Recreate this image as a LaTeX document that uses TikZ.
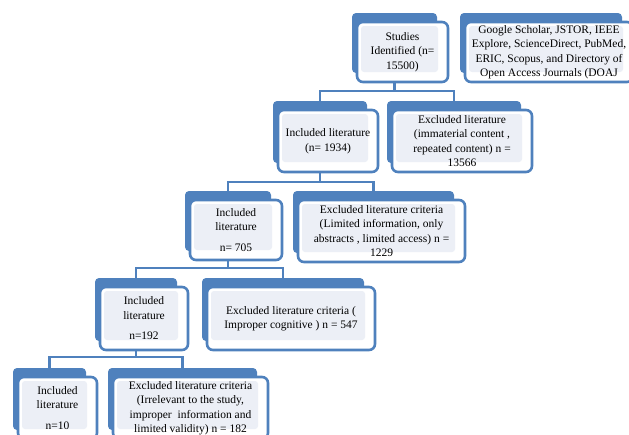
\documentclass[tikz,border=0pt]{standalone}
\usepackage{fontspec}
\setmainfont{Liberation Serif}
\usepackage{xcolor}
\usepackage{tikz}
\usetikzlibrary{positioning,calc}
\definecolor{boxblue}{HTML}{4F81BD}
\definecolor{paleblue}{HTML}{ECEFF6}

\begin{document}
\begin{tikzpicture}[x=1pt,y=-1pt,
  bk/.style={fill=boxblue,rounded corners=4pt,minimum height=60pt},
  fr/.style={draw=boxblue,fill=white,line width=2.6pt,rounded corners=6pt,
             align=center,inner sep=1pt,font=\fontsize{11.5}{14.5}\selectfont,
             path picture={\fill[paleblue,rounded corners=3pt]
               ([shift={(4pt,-4pt)}]path picture bounding box.north west) rectangle
               ([shift={(-10pt,10pt)}]path picture bounding box.south east);}},
  ln/.style={draw=boxblue,line width=2.6pt}
]
\useasboundingbox (0,0) rectangle (629,434);

\node[bk,minimum width=85pt]  (studiesb) at (394.5,43) {};
\node[bk,minimum width=162pt] (sourceb)  at (541,43) {};
\node[bk,minimum width=94pt,minimum height=62pt]  (inc1b) at (320,132) {};
\node[bk,minimum width=134pt,minimum height=62pt] (exc1b) at (454,132) {};
\node[bk,minimum width=86pt]  (inc2b) at (228,221) {};
\node[bk,minimum width=161pt,minimum height=62pt] (exc2b) at (373.5,222) {};
\node[bk,minimum width=82pt,minimum height=63pt]  (inc3b) at (136,309.5) {};
\node[bk,minimum width=162pt,minimum height=63pt] (exc3b) at (283,309.5) {};
\node[bk,minimum width=73pt,minimum height=62pt]  (inc4b) at (49.5,399) {};
\node[bk,minimum width=149pt,minimum height=62pt] (exc4b) at (182.5,399) {};

\coordinate (j1) at (0,91);
\coordinate (j2) at (0,182);
\coordinate (j3) at (0,268);
\coordinate (j4) at (0,357);

\node[fr,minimum width=91pt,minimum height=60pt] (studies) at (402.5,52)
  {Studies\\Identified (n=\\15500)};
\node[fr,minimum width=168pt,minimum height=60pt] (source) at (549,52)
  {Google Scholar, JSTOR, IEEE\\Explore, ScienceDirect, PubMed,\\ERIC, Scopus, and Directory of\\Open Access Journals (DOAJ};
\node[fr,minimum width=100pt,minimum height=62pt] (inc1) at (328,141)
  {Included literature\\(n= 1934)};
\node[fr,minimum width=140pt,minimum height=62pt] (exc1) at (462,141)
  {Excluded literature\\(immaterial content ,\\repeated content) n =\\13566};
\node[fr,minimum width=92pt,minimum height=60pt] (inc2) at (236,230)
  {Included\\literature\\[6pt]n= 705};
\node[fr,minimum width=167pt,minimum height=62pt] (exc2) at (381.5,231)
  {Excluded literature criteria\\(Limited information, only\\abstracts , limited access) n =\\1229};
\node[fr,minimum width=88pt,minimum height=63pt] (inc3) at (144,318.5)
  {Included\\literature\\[6pt]n=192};
\node[fr,minimum width=168pt,minimum height=63pt] (exc3) at (291,318.5)
  {Excluded literature criteria (\\Improper cognitive ) n = 547};
\node[fr,minimum width=79pt,minimum height=62pt] (inc4) at (57.5,408)
  {Included\\literature\\[6pt]n=10};
\node[fr,minimum width=155pt,minimum height=62pt] (exc4) at (190.5,408)
  {Excluded literature criteria\\(Irrelevant to the study,\\improper~ information and\\limited validity) n = 182};

\draw[ln] (studiesb |- studies.south) -- (studiesb |- j1);
\draw[ln] (inc1b.north) |- (exc1b |- j1) -- (exc1b.north);
\draw[ln] (inc1b |- inc1.south) -- (inc1b |- j2);
\draw[ln] (inc2b.north) |- (exc2b |- j2) -- (exc2b.north);
\draw[ln] (inc2b |- inc2.south) -- (inc2b |- j3);
\draw[ln] (inc3b.north) |- (exc3b |- j3) -- (exc3b.north);
\draw[ln] (inc3b |- inc3.south) -- (inc3b |- j4);
\draw[ln] (inc4b.north) |- (exc4b |- j4) -- (exc4b.north);
\end{tikzpicture}
\end{document}
